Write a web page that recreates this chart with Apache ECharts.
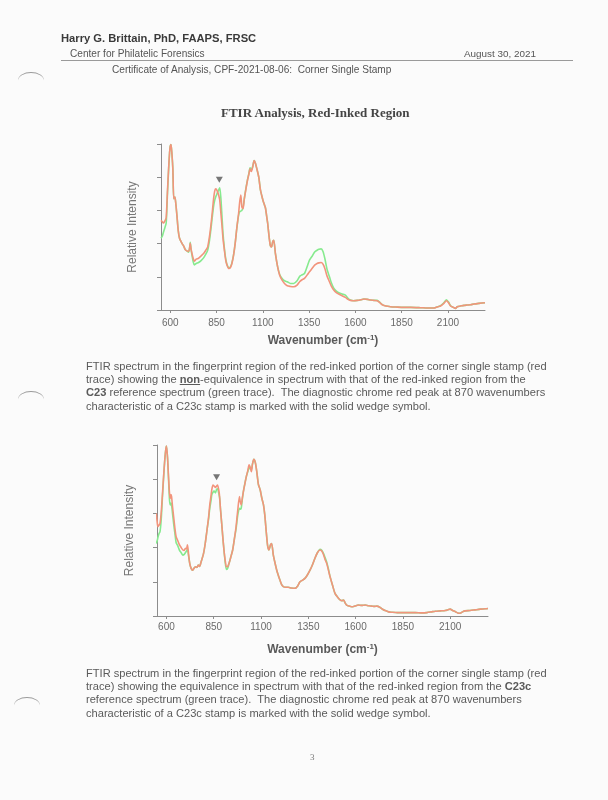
<!DOCTYPE html>
<html>
<head>
<meta charset="utf-8">
<script src="https://cdn.jsdelivr.net/npm/echarts@6/dist/echarts.min.js"></script>
<style>
  html, body { margin:0; padding:0; }
  body { width:608px; height:800px; position:relative; background:#fbfbfb; overflow:hidden;
         font-family:"Liberation Sans", Arial, sans-serif; }
  #chart { position:absolute; left:0; top:0; width:608px; height:800px; }
  .t { position:absolute; white-space:nowrap; color:#555; z-index:2; }
  .cap { position:absolute; left:86px; font-size:11.1px; line-height:13.2px; color:#5a5a5a; white-space:nowrap; z-index:2; }
  .arc { position:absolute; width:26px; height:16px; border-top:1.2px solid #9a9a9a; border-radius:50% 50% 0 0; z-index:2; }
</style>
</head>
<body>
<div class="t" style="left:61px; top:32px; font-size:11.2px; font-weight:bold; color:#3a3a3a;">Harry G. Brittain, PhD, FAAPS, FRSC</div>
<div class="t" style="left:70px; top:47.5px; font-size:10.1px;">Center for Philatelic Forensics</div>
<div class="t" style="left:464px; top:47.5px; font-size:9.9px;">August 30, 2021</div>
<div style="position:absolute; left:61px; top:60px; width:512px; height:0; border-top:1px solid #9a9a9a; z-index:2;"></div>
<div class="t" style="left:112px; top:64px; font-size:10.1px;">Certificate of Analysis, CPF-2021-08-06:&nbsp; Corner Single Stamp</div>
<div class="t" style="left:221px; top:105px; font-size:13px; font-weight:bold; font-family:'Liberation Serif','Times New Roman',serif; color:#444;">FTIR Analysis, Red-Inked Region</div>

<div class="arc" style="left:18px; top:72px;"></div>
<div class="arc" style="left:18px; top:391px;"></div>
<div class="arc" style="left:14px; top:697px;"></div>

<div class="cap" style="top:360px;">FTIR spectrum in the fingerprint region of the red-inked portion of the corner single stamp (red<br>trace) showing the <b><u>non</u></b>-equivalence in spectrum with that of the red-inked region from the<br><b>C23</b> reference spectrum (green trace).&nbsp; The diagnostic chrome red peak at 870 wavenumbers<br>characteristic of a C23c stamp is marked with the solid wedge symbol.</div>

<div class="cap" style="top:667px;">FTIR spectrum in the fingerprint region of the red-inked portion of the corner single stamp (red<br>trace) showing the equivalence in spectrum with that of the red-inked region from the <b>C23c</b><br>reference spectrum (green trace).&nbsp; The diagnostic chrome red peak at 870 wavenumbers<br>characteristic of a C23c stamp is marked with the solid wedge symbol.</div>

<div class="t" style="left:310px; top:752px; font-size:9px; font-family:'Liberation Serif',serif; color:#777;">3</div>

<div id="chart"></div>
<script>
// ---- tick labels ----
const xTicks = [600, 850, 1100, 1350, 1600, 1850, 2100];

// ---- Chart 1 (non-equivalence, C23 reference) ----
const wn1 = [550,557,564,571,578,585,591,598,604,609,614,619,625,630,636,643,650,663,672,681,690,699,704,708,712,717,724,730,740,753,765,780,792,802,812,820,828,834,840,845,851,856,862,867,873,879,885,892,899,906,917,925,933,942,951,960,969,975,981,987,993,1000,1008,1017,1025,1031,1038,1045,1053,1060,1067,1078,1087,1094,1101,1108,1114,1120,1126,1134,1141,1147,1153,1159,1168,1180,1191,1204,1217,1232,1249,1267,1285,1300,1312,1325,1339,1352,1366,1380,1393,1403,1415,1425,1435,1447,1460,1470,1483,1497,1510,1528,1546,1560,1573,1590,1610,1630,1646,1665,1682,1700,1718,1732,1745,1765,1790,1820,1862,1900,1952,1990,2024,2045,2060,2078,2092,2103,2114,2128,2141,2150,2168,2186,2204,2222,2240,2268,2300];
const red1 = [2.70,2.66,2.62,2.68,2.78,3.60,4.25,4.85,4.98,4.70,4.25,3.35,3.40,3.20,2.85,2.40,2.16,2.01,1.93,1.82,1.78,1.76,1.85,2.01,1.85,1.71,1.55,1.47,1.53,1.56,1.62,1.70,1.80,1.90,2.22,2.57,3.00,3.35,3.58,3.65,3.62,3.55,3.45,3.32,2.95,2.56,2.15,1.82,1.52,1.36,1.25,1.28,1.40,1.65,2.02,2.50,2.90,3.25,3.46,3.10,3.05,3.35,3.62,3.90,4.10,4.25,4.17,4.30,4.50,4.42,4.27,4.00,3.62,3.45,3.30,3.18,3.08,2.85,2.62,2.20,1.93,1.90,2.05,2.10,1.70,1.30,1.05,0.90,0.80,0.73,0.71,0.70,0.75,0.86,0.91,0.95,1.05,1.15,1.25,1.35,1.40,1.42,1.43,1.38,1.25,1.02,0.85,0.72,0.60,0.52,0.48,0.43,0.38,0.32,0.29,0.28,0.29,0.31,0.33,0.32,0.30,0.29,0.28,0.22,0.16,0.12,0.10,0.09,0.08,0.08,0.07,0.06,0.06,0.10,0.12,0.20,0.28,0.22,0.12,0.08,0.05,0.10,0.12,0.14,0.15,0.16,0.18,0.20,0.22];
const green1 = [2.16,2.22,2.36,2.48,2.62,3.50,4.20,4.85,4.98,4.70,4.25,3.35,3.40,3.20,2.85,2.40,2.16,2.01,1.93,1.82,1.78,1.74,1.86,2.04,1.84,1.66,1.45,1.36,1.40,1.43,1.48,1.57,1.68,1.80,2.10,2.45,2.85,3.12,3.30,3.40,3.48,3.55,3.62,3.68,3.40,2.86,2.30,1.88,1.56,1.38,1.27,1.30,1.42,1.66,2.02,2.48,2.85,2.96,2.98,3.00,3.10,3.35,3.64,3.92,4.12,4.28,4.22,4.32,4.50,4.42,4.27,4.00,3.62,3.45,3.30,3.18,3.08,2.85,2.62,2.20,1.93,1.90,2.05,2.10,1.70,1.30,1.07,0.95,0.88,0.85,0.80,0.80,0.88,1.02,1.06,1.10,1.30,1.50,1.62,1.75,1.80,1.83,1.84,1.76,1.55,1.22,1.00,0.82,0.66,0.57,0.52,0.48,0.45,0.35,0.30,0.28,0.29,0.31,0.33,0.32,0.30,0.29,0.29,0.23,0.16,0.12,0.10,0.09,0.08,0.08,0.07,0.06,0.06,0.10,0.13,0.22,0.31,0.24,0.13,0.08,0.05,0.10,0.12,0.14,0.15,0.16,0.18,0.20,0.22];
const wedge1 = [865, 3.92];

// ---- Chart 2 (equivalence, C23c reference) ----
const wn2 = [546,551,555,560,566,572,578,585,591,596,600,606,611,616,620,624,627,632,638,645,651,660,669,678,687,694,700,706,711,717,723,730,738,746,754,761,768,775,783,795,805,814,823,829,835,840,846,852,859,865,870,876,881,886,892,898,904,910,917,924,931,940,950,959,968,977,986,990,995,1002,1008,1015,1022,1030,1037,1043,1049,1055,1062,1070,1078,1086,1095,1104,1113,1120,1127,1135,1142,1150,1156,1165,1174,1183,1192,1200,1209,1218,1230,1244,1260,1280,1294,1306,1320,1332,1345,1359,1372,1385,1398,1412,1421,1430,1438,1447,1456,1465,1478,1491,1505,1518,1528,1536,1545,1553,1565,1579,1596,1614,1632,1651,1668,1686,1700,1712,1730,1745,1757,1775,1792,1820,1845,1880,1915,1950,1977,2000,2021,2050,2074,2088,2100,2113,2126,2140,2153,2165,2179,2205,2232,2260,2285,2300];
const red2 = [3.00,2.75,2.61,2.65,2.71,3.00,3.49,4.10,4.56,4.85,4.97,4.60,4.07,3.60,3.44,3.55,3.49,3.20,2.90,2.55,2.32,2.20,2.08,2.00,1.93,1.92,1.98,1.96,2.08,1.80,1.54,1.40,1.34,1.40,1.44,1.42,1.49,1.45,1.58,1.80,2.12,2.50,2.90,3.25,3.49,3.70,3.83,3.80,3.76,3.80,3.83,3.70,3.49,3.10,2.71,2.30,1.93,1.65,1.44,1.45,1.54,1.72,1.93,2.25,2.61,3.10,3.49,3.35,3.25,3.48,3.68,3.88,4.07,4.25,4.42,4.35,4.22,4.45,4.58,4.48,4.20,3.85,3.70,3.45,3.25,2.95,2.50,2.05,1.93,2.08,2.12,1.78,1.55,1.34,1.18,1.05,0.92,0.86,0.84,0.84,0.82,0.81,0.88,1.00,1.05,1.10,1.20,1.34,1.50,1.69,1.85,1.93,1.90,1.80,1.66,1.54,1.35,1.15,0.90,0.66,0.55,0.47,0.45,0.47,0.38,0.32,0.29,0.27,0.29,0.32,0.31,0.32,0.30,0.29,0.28,0.29,0.25,0.19,0.16,0.12,0.11,0.10,0.10,0.10,0.10,0.09,0.10,0.12,0.14,0.15,0.16,0.18,0.20,0.16,0.13,0.09,0.08,0.12,0.15,0.16,0.18,0.20,0.21,0.22];
const green2 = [2.12,2.20,2.30,2.40,2.47,2.80,3.40,4.05,4.56,4.85,4.97,4.60,4.00,3.40,3.25,3.30,3.25,3.00,2.70,2.40,2.15,2.05,1.92,1.85,1.78,1.80,1.85,1.90,1.95,1.75,1.54,1.40,1.34,1.40,1.44,1.42,1.49,1.45,1.58,1.80,2.12,2.50,2.85,3.15,3.35,3.55,3.62,3.65,3.60,3.70,3.72,3.60,3.45,3.10,2.71,2.30,1.93,1.60,1.36,1.40,1.54,1.72,1.93,2.25,2.55,2.95,3.15,3.12,3.15,3.45,3.68,3.88,4.07,4.22,4.35,4.30,4.28,4.45,4.58,4.48,4.20,3.85,3.70,3.45,3.25,2.95,2.50,2.05,1.93,2.08,2.12,1.78,1.55,1.34,1.18,1.05,0.92,0.86,0.84,0.84,0.82,0.81,0.88,1.00,1.05,1.10,1.20,1.34,1.50,1.69,1.85,1.95,1.92,1.83,1.72,1.58,1.38,1.15,0.90,0.66,0.55,0.47,0.45,0.47,0.38,0.32,0.29,0.27,0.29,0.32,0.31,0.32,0.30,0.29,0.28,0.29,0.25,0.19,0.16,0.12,0.11,0.10,0.10,0.10,0.10,0.09,0.10,0.12,0.14,0.15,0.16,0.18,0.20,0.16,0.13,0.09,0.08,0.12,0.15,0.16,0.18,0.20,0.21,0.22];
const wedge2 = [865, 4.06];

const RED = '#f2947c', GREEN = '#86ea8e';
const zip = (xs, ys) => xs.map((x, i) => [x, ys[i]]);

const axisCol = '#8c8c8c';
function xAx(gi, gap, lblMargin) {
  return {
    type: 'value', gridIndex: gi, min: 550, max: 2300,
    axisLine: { show: true, lineStyle: { color: axisCol, width: 1 } },
    axisTick: { show: true, length: 3, customValues: xTicks, lineStyle: { color: axisCol } },
    axisLabel: { customValues: xTicks, color: '#6a6a6a', fontSize: 10, margin: lblMargin,
                 fontFamily: 'Liberation Sans', formatter: v => String(v) },
    splitLine: { show: false },
    name: '{b|Wavenumber (cm}{s|-1}{b|)}',
    nameLocation: 'middle', nameGap: gap,
    nameTextStyle: { rich: {
      b: { fontSize: 12, fontWeight: 'bold', color: '#5a5a5a', fontFamily: 'Liberation Sans' },
      s: { fontSize: 8, fontWeight: 'bold', color: '#5a5a5a', fontFamily: 'Liberation Sans', verticalAlign: 'top', padding: [0,0,6,0] }
    } }
  };
}
function yAx(gi, gap) {
  return {
    type: 'value', gridIndex: gi, min: 0, max: 5, interval: 1,
    axisLine: { show: true, lineStyle: { color: axisCol, width: 1 } },
    axisTick: { show: true, length: 4, lineStyle: { color: axisCol } },
    axisLabel: { show: false },
    splitLine: { show: false },
    name: 'Relative Intensity', nameLocation: 'middle', nameGap: gap,
    nameTextStyle: { fontSize: 12, color: '#777', fontFamily: 'Liberation Sans' }
  };
}
function lineS(gi, data, color) {
  return { type: 'line', xAxisIndex: gi, yAxisIndex: gi, data: data, showSymbol: false,
           smooth: 0.25, lineStyle: { color: color, width: 1.6 }, itemStyle: { color: color }, z: 2 };
}
function wedgeS(gi, pt) {
  return { type: 'scatter', xAxisIndex: gi, yAxisIndex: gi, data: [pt], symbol: 'triangle',
           symbolRotate: 180, symbolSize: [7, 6], itemStyle: { color: '#555' }, z: 5 };
}

const chart = echarts.init(document.getElementById('chart'), null, { renderer: 'canvas' });
chart.setOption({
  animation: false,
  backgroundColor: 'transparent',
  grid: [
    { left: 161, top: 144, width: 324, height: 166 },
    { left: 157, top: 445, width: 331, height: 171 }
  ],
  xAxis: [xAx(0, 24, 8), xAx(1, 27, 6)],
  yAxis: [yAx(0, 22), yAx(1, 21)],
  series: [
    lineS(0, zip(wn1, green1), GREEN),
    lineS(0, zip(wn1, red1), RED),
    wedgeS(0, wedge1),
    lineS(1, zip(wn2, green2), GREEN),
    lineS(1, zip(wn2, red2), RED),
    wedgeS(1, wedge2)
  ]
});
</script>
</body>
</html>
